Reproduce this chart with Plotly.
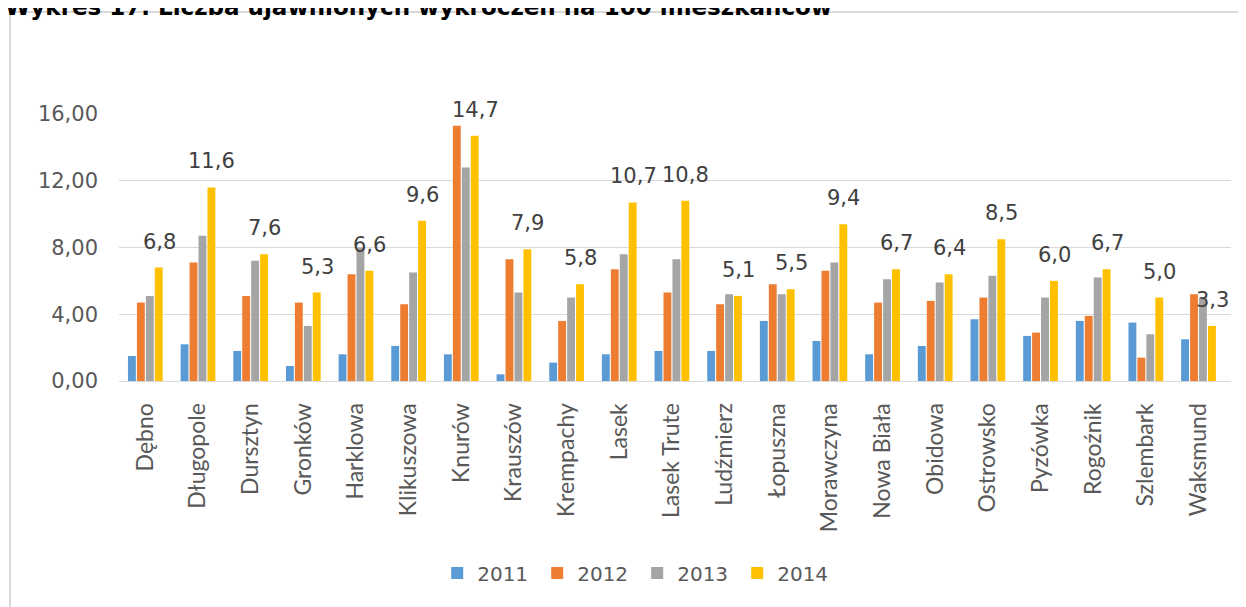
import plotly.graph_objects as go

villages = ['Dębno', 'Długopole', 'Dursztyn', 'Gronków', 'Harklowa', 'Klikuszowa', 'Knurów',
            'Krauszów', 'Krempachy', 'Lasek', 'Lasek Trute', 'Ludźmierz', 'Łopuszna', 'Morawczyna',
            'Nowa Biała', 'Obidowa', 'Ostrowsko', 'Pyzówka', 'Rogoźnik', 'Szlembark', 'Waksmund']

v2011 = [1.5, 2.2, 1.8, 0.9, 1.6, 2.1, 1.6, 0.4, 1.1, 1.6, 1.8, 1.8, 3.6, 2.4, 1.6, 2.1, 3.7, 2.7, 3.6, 3.5, 2.5]
v2012 = [4.7, 7.1, 5.1, 4.7, 6.4, 4.6, 15.3, 7.3, 3.6, 6.7, 5.3, 4.6, 5.8, 6.6, 4.7, 4.8, 5.0, 2.9, 3.9, 1.4, 5.2]
v2013 = [5.1, 8.7, 7.2, 3.3, 8.0, 6.5, 12.8, 5.3, 5.0, 7.6, 7.3, 5.2, 5.2, 7.1, 6.1, 5.9, 6.3, 5.0, 6.2, 2.8, 5.0]
v2014 = [6.8, 11.6, 7.6, 5.3, 6.6, 9.6, 14.7, 7.9, 5.8, 10.7, 10.8, 5.1, 5.5, 9.4, 6.7, 6.4, 8.5, 6.0, 6.7, 5.0, 3.3]

series = [('2011', v2011, '#5b9bd5'), ('2012', v2012, '#ed7d31'),
          ('2013', v2013, '#a5a5a5'), ('2014', v2014, '#ffc000')]

fig = go.Figure()
for name, vals, col in series:
    fig.add_bar(x=villages, y=vals, name=name, marker_color=col, marker_line_width=0)

# etykiety tylko dla 2014, nad słupkiem
for v, val in zip(villages, v2014):
    fig.add_annotation(x=v, y=val, text=f"{val:.1f}".replace('.', ','), showarrow=False,
                       xshift=14, yshift=26, yanchor='middle',
                       font=dict(family='DejaVu Sans', size=21, color='#404040'))

fig.add_annotation(text='<b>Wykres 17. Liczba ujawnionych wykroczeń na 100 mieszkańców</b>',
                   xref='paper', yref='paper', x=-0.104, y=1.344, xanchor='left', yanchor='bottom',
                   showarrow=False, font=dict(family='DejaVu Sans', size=23, color='#000000'))

# ramka wykresu (lewa i górna krawędź)
fig.add_shape(type='line', xref='paper', yref='paper', x0=-0.098, x1=-0.098, y0=1.382, y1=-0.95,
              line=dict(color='#d9d9d9', width=2))
fig.add_shape(type='line', xref='paper', yref='paper', x0=-0.098, x1=1.1, y0=1.382, y1=1.382,
              line=dict(color='#d9d9d9', width=2))

fig.update_layout(
    width=1246, height=607,
    margin=dict(l=111, r=23, t=106, b=234),
    paper_bgcolor='white', plot_bgcolor='white',
    barmode='group', bargap=0.32, bargroupgap=0.12,
    separators=', ',
    showlegend=True,
    legend=dict(orientation='h', x=0.466, y=-0.719, xanchor='center', yanchor='middle',
                font=dict(family='DejaVu Sans', size=20, color='#595959'),
                entrywidth=55, entrywidthmode='pixels', itemclick=False),
)
fig.update_yaxes(range=[0, 16], tickvals=[0, 4, 8, 12, 16], tickformat='.2f',
                 showgrid=True, gridcolor='#d9d9d9', gridwidth=1, zeroline=False, showline=False,
                 ticklabelstandoff=20,
                 tickfont=dict(family='DejaVu Sans', size=21, color='#595959'))
fig.update_xaxes(tickangle=-90, showline=True, linecolor='#d9d9d9', linewidth=1, ticks='',
                 ticklabelstandoff=12,
                 tickfont=dict(family='Lato', size=23, color='#595959'))

fig.write_html("out.html")
